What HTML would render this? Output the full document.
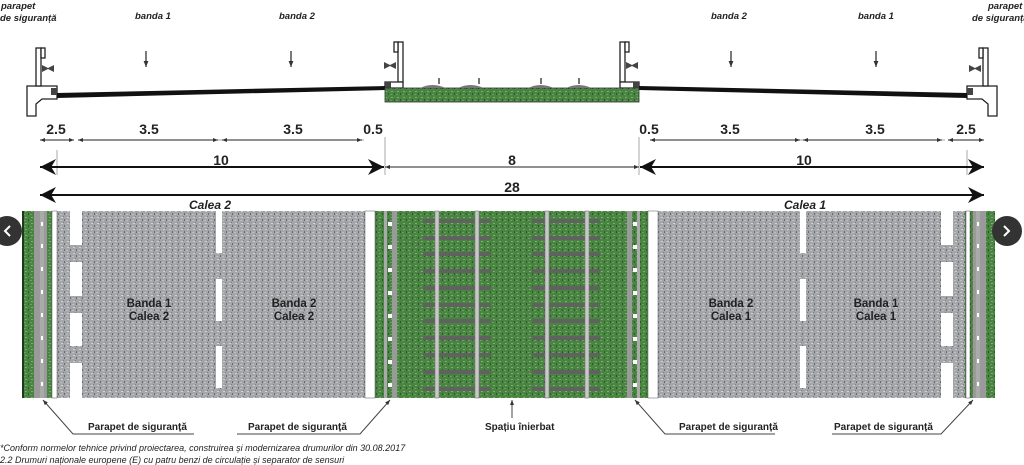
<!DOCTYPE html>
<html><head><meta charset="utf-8"><style>
html,body{margin:0;padding:0;background:#fff;width:1024px;height:465px;overflow:hidden}
text{font-family:"Liberation Sans",sans-serif;fill:#222}
</style></head><body>
<svg width="1024" height="465" viewBox="0 0 1024 465" xmlns="http://www.w3.org/2000/svg">
<defs>
<pattern id="asph" width="6" height="6" patternUnits="userSpaceOnUse">
<rect width="6" height="6" fill="#a4a6aa"/><rect x="1" y="1" width="2" height="1" fill="#cfd1d5"/><rect x="4" y="3" width="1" height="2" fill="#6a6c70"/><rect x="0" y="4" width="2" height="1" fill="#bdbfc3"/><rect x="3" y="0" width="1" height="1" fill="#7c7e82"/>
</pattern>
<pattern id="grass" width="6" height="6" patternUnits="userSpaceOnUse">
<rect width="6" height="6" fill="#4a8443"/><rect x="1" y="1" width="2" height="1" fill="#7ab06c"/><rect x="4" y="3" width="1" height="2" fill="#2b5a28"/><rect x="0" y="4" width="2" height="1" fill="#679f5c"/>
</pattern>
<marker id="ab" viewBox="0 0 10 10" refX="10" refY="5" markerWidth="10" markerHeight="8" orient="auto-start-reverse"><path d="M0,0 L10,5 L0,10 L3,5z" fill="#111"/></marker>
<marker id="as" viewBox="0 0 10 10" refX="10" refY="5" markerWidth="6" markerHeight="5" orient="auto-start-reverse"><path d="M0,1 L10,5 L0,9z" fill="#333"/></marker>
</defs>

<g font-style="italic" font-weight="bold" font-size="9.5">
<text x="1" y="9">parapet</text><text x="0" y="21">de siguranță</text>
<text x="135" y="19">banda 1</text><text x="279" y="19">banda 2</text>
<text x="711" y="19">banda 2</text><text x="858" y="19">banda 1</text>
<text x="988" y="9">parapet</text><text x="972" y="21">de siguranță</text>
</g>
<g stroke="#222" stroke-width="1.2">
<line x1="146" y1="51" x2="146" y2="67" marker-end="url(#as)"/>
<line x1="291" y1="51" x2="291" y2="67" marker-end="url(#as)"/>
<line x1="731" y1="51" x2="731" y2="67" marker-end="url(#as)"/>
<line x1="876" y1="51" x2="876" y2="67" marker-end="url(#as)"/>
</g>

<g stroke="#222" fill="#fff" stroke-width="1.3">
<path d="M27,86 H57 V99 H42 L36,104 V116 H27z"/>
<rect x="36" y="48" width="5" height="38"/><rect x="41" y="48" width="4" height="10"/>
<path d="M997,86 H967 V99 H982 L988,104 V116 H997z"/>
<rect x="983" y="48" width="5" height="38"/><rect x="979" y="48" width="4" height="10"/>
<rect x="398" y="42" width="5" height="40"/><rect x="394" y="42" width="4" height="10"/>
<path d="M385,82 H403 V88 H385z"/>
<rect x="620" y="42" width="5" height="40"/><rect x="625" y="42" width="4" height="10"/>
<path d="M620,82 H639 V88 H620z"/>
</g>
<g fill="#444"><rect x="51" y="88" width="6" height="7"/><rect x="967" y="88" width="6" height="7"/><rect x="385" y="82" width="6" height="6"/><rect x="633" y="82" width="6" height="6"/>
<path d="M42,65 l6,3 l6,-3 v7 l-6,-3 l-6,3z"/><path d="M969,65 l6,3 l6,-3 v7 l-6,-3 l-6,3z"/><path d="M384,62 l6,3 l6,-3 v7 l-6,-3 l-6,3z"/><path d="M626,62 l6,3 l6,-3 v7 l-6,-3 l-6,3z"/></g>
<polygon points="57,93 385,86 385,90 57,98" fill="#111"/>
<polygon points="639,86 967,93 967,98 639,90" fill="#111"/>
<rect x="385" y="88" width="254" height="14" fill="url(#grass)" stroke="#333" stroke-width="0.8"/>
<g fill="#777"><path d="M420,88 q12,-6 26,0z"/><path d="M458,88 q12,-6 26,0z"/><path d="M528,88 q12,-6 26,0z"/><path d="M566,88 q12,-6 26,0z"/>
<rect x="438" y="78" width="2" height="6"/><rect x="478" y="78" width="2" height="6"/><rect x="540" y="78" width="2" height="6"/><rect x="578" y="78" width="2" height="6"/></g>

<g font-weight="bold" font-size="14" text-anchor="middle">
<text x="56" y="134">2.5</text><text x="149" y="134">3.5</text><text x="293" y="134">3.5</text><text x="373" y="134">0.5</text>
<text x="649" y="134">0.5</text><text x="730" y="134">3.5</text><text x="875" y="134">3.5</text><text x="966" y="134">2.5</text>
<text x="221" y="165">10</text><text x="512" y="165">8</text><text x="804" y="165">10</text><text x="512" y="192">28</text>
</g>
<g stroke="#aaa" stroke-width="1">
<line x1="78" y1="140" x2="364" y2="140"/><line x1="659" y1="140" x2="945" y2="140"/>
<line x1="57" y1="150" x2="57" y2="175"/><line x1="385" y1="137" x2="385" y2="175"/><line x1="639" y1="137" x2="639" y2="175"/><line x1="967" y1="150" x2="967" y2="175"/>
</g>
<g stroke="#222" stroke-width="1">
<line x1="40" y1="140" x2="74" y2="140" marker-start="url(#as)" marker-end="url(#as)"/>
<line x1="78" y1="140" x2="218" y2="140" marker-start="url(#as)" marker-end="url(#as)"/>
<line x1="222" y1="140" x2="362" y2="140" marker-start="url(#as)" marker-end="url(#as)"/>
<line x1="650" y1="140" x2="800" y2="140" marker-start="url(#as)" marker-end="url(#as)"/>
<line x1="803" y1="140" x2="942" y2="140" marker-start="url(#as)" marker-end="url(#as)"/>
<line x1="948" y1="140" x2="984" y2="140" marker-start="url(#as)" marker-end="url(#as)"/>
<line x1="385" y1="167" x2="639" y2="167" marker-start="url(#as)" marker-end="url(#as)"/>
</g>
<g stroke="#111" stroke-width="2">
<line x1="40" y1="167" x2="384" y2="167" marker-start="url(#ab)" marker-end="url(#ab)"/>
<line x1="640" y1="167" x2="984" y2="167" marker-start="url(#ab)" marker-end="url(#ab)"/>
<line x1="40" y1="195" x2="984" y2="195" marker-start="url(#ab)" marker-end="url(#ab)"/>
</g>
<g font-style="italic" font-weight="bold" font-size="12" text-anchor="middle">
<text x="210" y="209">Calea 2</text><text x="805" y="209">Calea 1</text></g>

<rect x="22" y="211" width="973" height="187" fill="url(#asph)"/>
<rect x="22" y="211" width="35" height="187" fill="url(#grass)"/>
<rect x="22" y="211" width="2" height="187" fill="#1e3a1c"/>
<rect x="34" y="211" width="6" height="187" fill="#9a9a9a"/><rect x="44" y="211" width="3" height="187" fill="#9a9a9a"/>
<rect x="40" y="211" width="4" height="187" fill="#aaa"/>
<rect x="52" y="211" width="5" height="187" fill="#fff" stroke="#555" stroke-width="0.5"/>
<rect x="965" y="211" width="30" height="187" fill="url(#grass)"/>
<rect x="966" y="211" width="4" height="187" fill="#fff" stroke="#555" stroke-width="0.5"/>
<rect x="973" y="211" width="3" height="187" fill="#9a9a9a"/><rect x="980" y="211" width="6" height="187" fill="#9a9a9a"/>
<rect x="976" y="211" width="4" height="187" fill="#aaa"/>
<rect x="375" y="211" width="273" height="187" fill="url(#grass)"/>
<rect x="365" y="211" width="10" height="187" fill="#fff" stroke="#555" stroke-width="0.5"/>
<rect x="648" y="211" width="10" height="187" fill="#fff" stroke="#555" stroke-width="0.5"/>
<rect x="384" y="211" width="3" height="187" fill="#aaa"/><rect x="392" y="211" width="5" height="187" fill="#9a9a9a"/>
<rect x="627" y="211" width="5" height="187" fill="#9a9a9a"/><rect x="637" y="211" width="3" height="187" fill="#aaa"/>
<g fill="#fff">
<rect x="41" y="222" width="2" height="4"/><rect x="41" y="244" width="2" height="4"/><rect x="41" y="267" width="2" height="4"/><rect x="41" y="290" width="2" height="4"/><rect x="41" y="313" width="2" height="4"/><rect x="41" y="336" width="2" height="4"/><rect x="41" y="359" width="2" height="4"/><rect x="41" y="382" width="2" height="4"/>
<rect x="977" y="222" width="2" height="4"/><rect x="977" y="244" width="2" height="4"/><rect x="977" y="267" width="2" height="4"/><rect x="977" y="290" width="2" height="4"/><rect x="977" y="313" width="2" height="4"/><rect x="977" y="336" width="2" height="4"/><rect x="977" y="359" width="2" height="4"/><rect x="977" y="382" width="2" height="4"/>
<rect x="388" y="222" width="4" height="4"/><rect x="388" y="245" width="4" height="4"/><rect x="388" y="268" width="4" height="4"/><rect x="388" y="291" width="4" height="4"/><rect x="388" y="314" width="4" height="4"/><rect x="388" y="337" width="4" height="4"/><rect x="388" y="360" width="4" height="4"/><rect x="388" y="383" width="4" height="4"/>
<rect x="633" y="222" width="4" height="4"/><rect x="633" y="245" width="4" height="4"/><rect x="633" y="268" width="4" height="4"/><rect x="633" y="291" width="4" height="4"/><rect x="633" y="314" width="4" height="4"/><rect x="633" y="337" width="4" height="4"/><rect x="633" y="360" width="4" height="4"/><rect x="633" y="383" width="4" height="4"/>
<rect x="70" y="211" width="12" height="34"/><rect x="70" y="262" width="12" height="34"/><rect x="70" y="313" width="12" height="33"/><rect x="70" y="363" width="12" height="35"/>
<rect x="216" y="211" width="6" height="42"/><rect x="216" y="279" width="6" height="42"/><rect x="216" y="346" width="6" height="42"/>
<rect x="800" y="211" width="6" height="42"/><rect x="800" y="279" width="6" height="42"/><rect x="800" y="346" width="6" height="42"/>
<rect x="941" y="211" width="12" height="34"/><rect x="941" y="262" width="12" height="34"/><rect x="941" y="313" width="12" height="33"/><rect x="941" y="363" width="12" height="35"/>
</g>
<g fill="#5f625f">
<rect x="423" y="219" width="68" height="4"/><rect x="423" y="236" width="68" height="4"/><rect x="423" y="252" width="68" height="4"/><rect x="423" y="269" width="68" height="4"/><rect x="423" y="286" width="68" height="4"/><rect x="423" y="303" width="68" height="4"/><rect x="423" y="319" width="68" height="4"/><rect x="423" y="336" width="68" height="4"/><rect x="423" y="353" width="68" height="4"/><rect x="423" y="370" width="68" height="4"/><rect x="423" y="387" width="68" height="4"/>
<rect x="532" y="219" width="68" height="4"/><rect x="532" y="236" width="68" height="4"/><rect x="532" y="252" width="68" height="4"/><rect x="532" y="269" width="68" height="4"/><rect x="532" y="286" width="68" height="4"/><rect x="532" y="303" width="68" height="4"/><rect x="532" y="319" width="68" height="4"/><rect x="532" y="336" width="68" height="4"/><rect x="532" y="353" width="68" height="4"/><rect x="532" y="370" width="68" height="4"/><rect x="532" y="387" width="68" height="4"/>
</g>
<g fill="#c8c8c8" stroke="#777" stroke-width="0.6">
<rect x="435" y="211" width="4" height="187"/><rect x="475" y="211" width="4" height="187"/>
<rect x="545" y="211" width="4" height="187"/><rect x="585" y="211" width="4" height="187"/>
</g>
<g font-weight="bold" font-size="11.5" text-anchor="middle" fill="#222">
<text x="149" y="307">Banda 1</text><text x="149" y="320">Calea 2</text>
<text x="294" y="307">Banda 2</text><text x="294" y="320">Calea 2</text>
<text x="731" y="307">Banda 2</text><text x="731" y="320">Calea 1</text>
<text x="876" y="307">Banda 1</text><text x="876" y="320">Calea 1</text>
</g>

<circle cx="7" cy="231" r="15" fill="#333"/><path d="M10,226 l-5,5 l5,5" stroke="#fff" stroke-width="2" fill="none"/>
<circle cx="1007" cy="231" r="15" fill="#333"/><path d="M1004,226 l5,5 l-5,5" stroke="#fff" stroke-width="2" fill="none"/>

<g stroke="#444" stroke-width="1" fill="none">
<polyline points="194,434 73,434 43,400" marker-end="url(#as)"/>
<polyline points="237,434 360,434 390,400" marker-end="url(#as)"/>
<line x1="512" y1="418" x2="512" y2="400" marker-end="url(#as)"/>
<polyline points="775,434 665,434 635,400" marker-end="url(#as)"/>
<polyline points="832,434 941,434 973,400" marker-end="url(#as)"/>
</g>
<g font-weight="bold" font-size="10">
<text x="88" y="430">Parapet de siguranță</text>
<text x="248" y="430">Parapet de siguranță</text>
<text x="485" y="430">Spațiu înierbat</text>
<text x="679" y="430">Parapet de siguranță</text>
<text x="834" y="430">Parapet de siguranță</text>
</g>
<g font-style="italic" font-size="9" fill="#444">
<text x="0" y="451">*Conform normelor tehnice privind proiectarea, construirea și modernizarea drumurilor din 30.08.2017</text>
<text x="0" y="463">2.2 Drumuri naționale europene (E) cu patru benzi de circulație și separator de sensuri</text>
</g>
</svg>
</body></html>
